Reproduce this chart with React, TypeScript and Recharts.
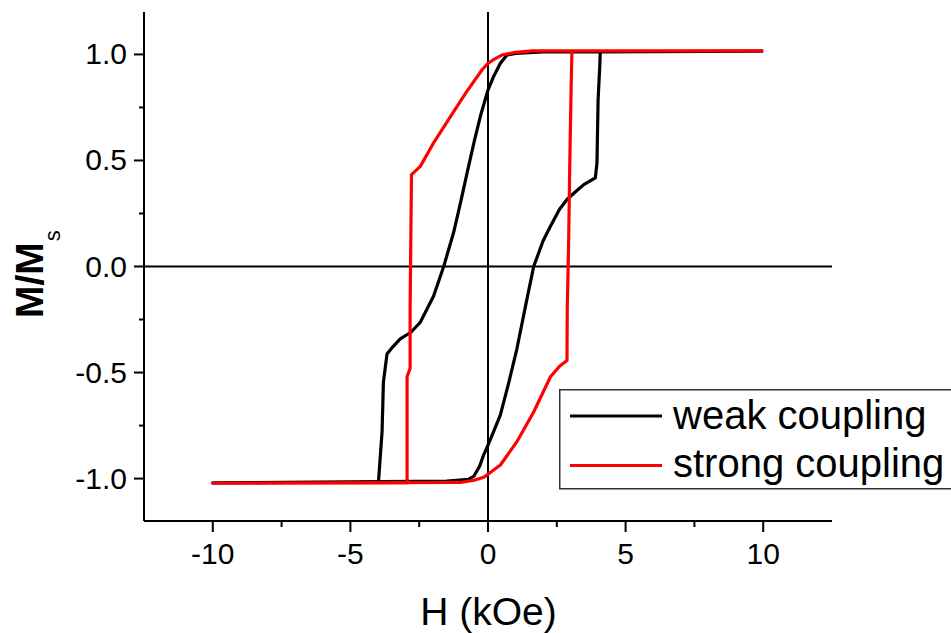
import React from 'react';
import { LineChart, Line, XAxis, YAxis, ReferenceLine, Legend, Label } from 'recharts';

// ---- data ----
const weakH = [
  10, 2.0, 1.0, 0.69, 0.45, 0.2, 0, -0.28, -0.5, -0.76, -1.0, -1.25, -1.61, -1.98, -2.46, -2.8, -3.19, -3.5, -3.67, -3.8, -3.85, -3.98, -10,
  -10, -1.5, -0.7, -0.52, -0.3, -0.16, 0, 0.2, 0.45, 0.75, 1.05, 1.42, 1.66, 2.0, 2.27, 2.6, 2.87, 3.2, 3.48, 3.9, 3.96, 4.0, 4.06, 4.08, 10,
];
const weakM = [
  1.015, 1.012, 1.005, 0.997, 0.958, 0.895, 0.832, 0.707, 0.59, 0.441, 0.3, 0.16, 0.0, -0.14, -0.263, -0.31, -0.341, -0.385, -0.412, -0.545, -0.78, -1.015, -1.02,
  -1.02, -1.012, -1.003, -0.99, -0.94, -0.889, -0.842, -0.78, -0.7, -0.55, -0.388, -0.15, 0.0, 0.12, 0.19, 0.27, 0.316, 0.355, 0.386, 0.418, 0.488, 0.785, 0.94, 1.012, 1.015,
];
const strongH = [
  10, 1.6, 1.0, 0.5, 0.2, 0, -0.2, -0.5, -0.8, -1.4, -2.0, -2.46, -2.78, -2.8, -2.83, -2.83, -2.94, -2.94, -10,
  -10, -1.0, -0.5, -0.16, 0, 0.45, 1.05, 1.66, 2.27, 2.6, 2.87, 2.88, 2.93, 2.97, 3.02, 3.05, 10,
];
const strongM = [
  1.017, 1.017, 1.01, 0.997, 0.975, 0.958, 0.93, 0.875, 0.82, 0.7, 0.578, 0.472, 0.433, 0.18, -0.2, -0.48, -0.52, -1.02, -1.022,
  -1.022, -1.018, -1.008, -0.994, -0.98, -0.936, -0.826, -0.686, -0.52, -0.47, -0.443, -0.2, 0.11, 0.47, 0.84, 1.017, 1.017,
];

const xMajorTicks = [-10, -5, 0, 5, 10];
const xMinorTicks = [-7.5, -2.5, 2.5, 7.5];
const xTickLabels = ['-10', '-5', '0', '5', '10'];
const yMajorTicks = [-1, -0.5, 0, 0.5, 1];
const yMinorTicks = [-0.75, -0.25, 0.25, 0.75];
const yTickLabels = ['-1.0', '-0.5', '0.0', '0.5', '1.0'];
const seriesNames = ['weak coupling', 'strong coupling'];
const seriesColors = ['#000000', '#ff0000'];
const xTitle = 'H (kOe)';
const yTitleMain = 'M/M';
const yTitleSub = 's';

const weakData = weakH.map((h, i) => ({ H: h, M: weakM[i] }));
const strongData = strongH.map((h, i) => ({ H: h, M: strongM[i] }));
const xTicks = [...xMajorTicks, ...xMinorTicks].sort((a, b) => a - b);
const yTicks = [...yMajorTicks, ...yMinorTicks].sort((a, b) => a - b);

const FONT = "'Liberation Sans', Arial, Helvetica, sans-serif";

function BottomTick(props: any) {
  const { x, y, payload } = props;
  const idx = xMajorTicks.indexOf(payload.value);
  const major = idx >= 0;
  return (
    <g>
      <line x1={x} x2={x} y1={y} y2={y + (major ? 11 : 6)} stroke="#000" strokeWidth={2} />
      {major && (
        <text x={x} y={y + 43} textAnchor="middle" fontSize={30} fontFamily={FONT} fill="#000">
          {xTickLabels[idx]}
        </text>
      )}
    </g>
  );
}

function TopTick(props: any) {
  const { x, y, payload } = props;
  const major = xMajorTicks.indexOf(payload.value) >= 0;
  return <line x1={x} x2={x} y1={y} y2={y + (major ? 11 : 6)} stroke="#000" strokeWidth={2} />;
}

function LeftTick(props: any) {
  const { x, y, payload } = props;
  const idx = yMajorTicks.indexOf(payload.value);
  const major = idx >= 0;
  return (
    <g>
      <line x1={x - (major ? 10 : 5)} x2={x} y1={y} y2={y} stroke="#000" strokeWidth={2} />
      {major && (
        <text x={x - 17} y={y + 10} textAnchor="end" fontSize={30} fontFamily={FONT} fill="#000">
          {yTickLabels[idx]}
        </text>
      )}
    </g>
  );
}

function RightTick(props: any) {
  const { x, y, payload } = props;
  const major = yMajorTicks.indexOf(payload.value) >= 0;
  return <line x1={x - (major ? 10 : 5)} x2={x} y1={y} y2={y} stroke="#000" strokeWidth={2} />;
}

function XTitle(props: any) {
  const vb = props.viewBox || { x: 144, y: 521, width: 688, height: 112 };
  return (
    <text x={vb.x + vb.width / 2 + 0.5} y={vb.y + 104} textAnchor="middle" fontSize={39} fontFamily={FONT} fill="#000">
      {xTitle}
    </text>
  );
}

function YTitle(props: any) {
  const vb = props.viewBox || { x: 0, y: 12, width: 144, height: 509 };
  const x = vb.x + 43;
  const y = vb.y + vb.height / 2 + 51.5;
  return (
    <text x={x} y={y} transform={`rotate(-90, ${x}, ${y})`} textAnchor="start" fontSize={39} fontWeight="bold" fontFamily={FONT} fill="#000">
      {yTitleMain}
      <tspan dy={17} dx={1} fontSize={22} fontWeight="normal">{yTitleSub}</tspan>
    </text>
  );
}

function LegendBox() {
  return (
    <svg width={420} height={102} style={{ display: 'block' }}>
      <rect x={0.75} y={0.75} width={440} height={99} fill="#fff" stroke="#333" strokeWidth={1.5} />
      {seriesNames.map((name, i) => (
        <g key={name}>
          <line x1={11} x2={103} y1={27 + i * 49.5} y2={27 + i * 49.5} stroke={seriesColors[i]} strokeWidth={3.2} />
          <text x={114} y={40 + i * 48} fontSize={40} fontFamily={FONT} fill="#000">{name}</text>
        </g>
      ))}
    </svg>
  );
}

export default function App() {
  return (
    <div style={{ position: 'absolute', left: 0, top: 0, width: 951, height: 633, overflow: 'hidden', background: '#fff' }}>
      <LineChart width={951} height={633} margin={{ top: 12, right: 119, bottom: 0, left: 0 }}>
        <XAxis
          xAxisId="b"
          dataKey="H"
          type="number"
          domain={[-12.5, 12.5]}
          allowDataOverflow
          ticks={xTicks}
          interval={0}
          height={112}
          tickSize={0}
          tickMargin={0}
          tickLine={false}
          axisLine={{ stroke: '#000', strokeWidth: 2 }}
          tick={<BottomTick />}
        >
          <Label content={<XTitle />} />
        </XAxis>
        <XAxis
          xAxisId="t"
          orientation="top"
          type="number"
          domain={[-12.5, 12.5]}
          allowDataOverflow
          ticks={xTicks}
          interval={0}
          height={0}
          tickSize={0}
          tickMargin={0}
          tickLine={false}
          axisLine={{ stroke: '#000', strokeWidth: 2 }}
          tick={<TopTick />}
        />
        <YAxis
          yAxisId="l"
          type="number"
          domain={[-1.2, 1.2]}
          allowDataOverflow
          ticks={yTicks}
          interval={0}
          width={144}
          tickSize={0}
          tickMargin={0}
          tickLine={false}
          axisLine={{ stroke: '#000', strokeWidth: 2 }}
          tick={<LeftTick />}
        >
          <Label content={<YTitle />} />
        </YAxis>
        <YAxis
          yAxisId="r"
          orientation="right"
          type="number"
          domain={[-1.2, 1.2]}
          allowDataOverflow
          ticks={yTicks}
          interval={0}
          width={0}
          tickSize={0}
          tickMargin={0}
          tickLine={false}
          axisLine={{ stroke: '#000', strokeWidth: 2 }}
          tick={<RightTick />}
        />
        <ReferenceLine xAxisId="b" yAxisId="l" x={0} stroke="#000" strokeWidth={2} />
        <ReferenceLine xAxisId="b" yAxisId="l" y={0} stroke="#000" strokeWidth={2} />
        <Line
          xAxisId="b"
          yAxisId="l"
          data={weakData}
          dataKey="M"
          name={seriesNames[0]}
          stroke={seriesColors[0]}
          strokeWidth={3.2}
          dot={false}
          type="linear"
          strokeLinejoin="round"
          isAnimationActive={false}
        />
        <Line
          xAxisId="b"
          yAxisId="l"
          data={strongData}
          dataKey="M"
          name={seriesNames[1]}
          stroke={seriesColors[1]}
          strokeWidth={3.2}
          dot={false}
          type="linear"
          strokeLinejoin="round"
          isAnimationActive={false}
        />
        <Legend
          layout="horizontal"
          verticalAlign="middle"
          align="center"
          wrapperStyle={{ left: 559, top: 389, width: 420, height: 102 }}
          content={<LegendBox />}
        />
      </LineChart>
    </div>
  );
}
